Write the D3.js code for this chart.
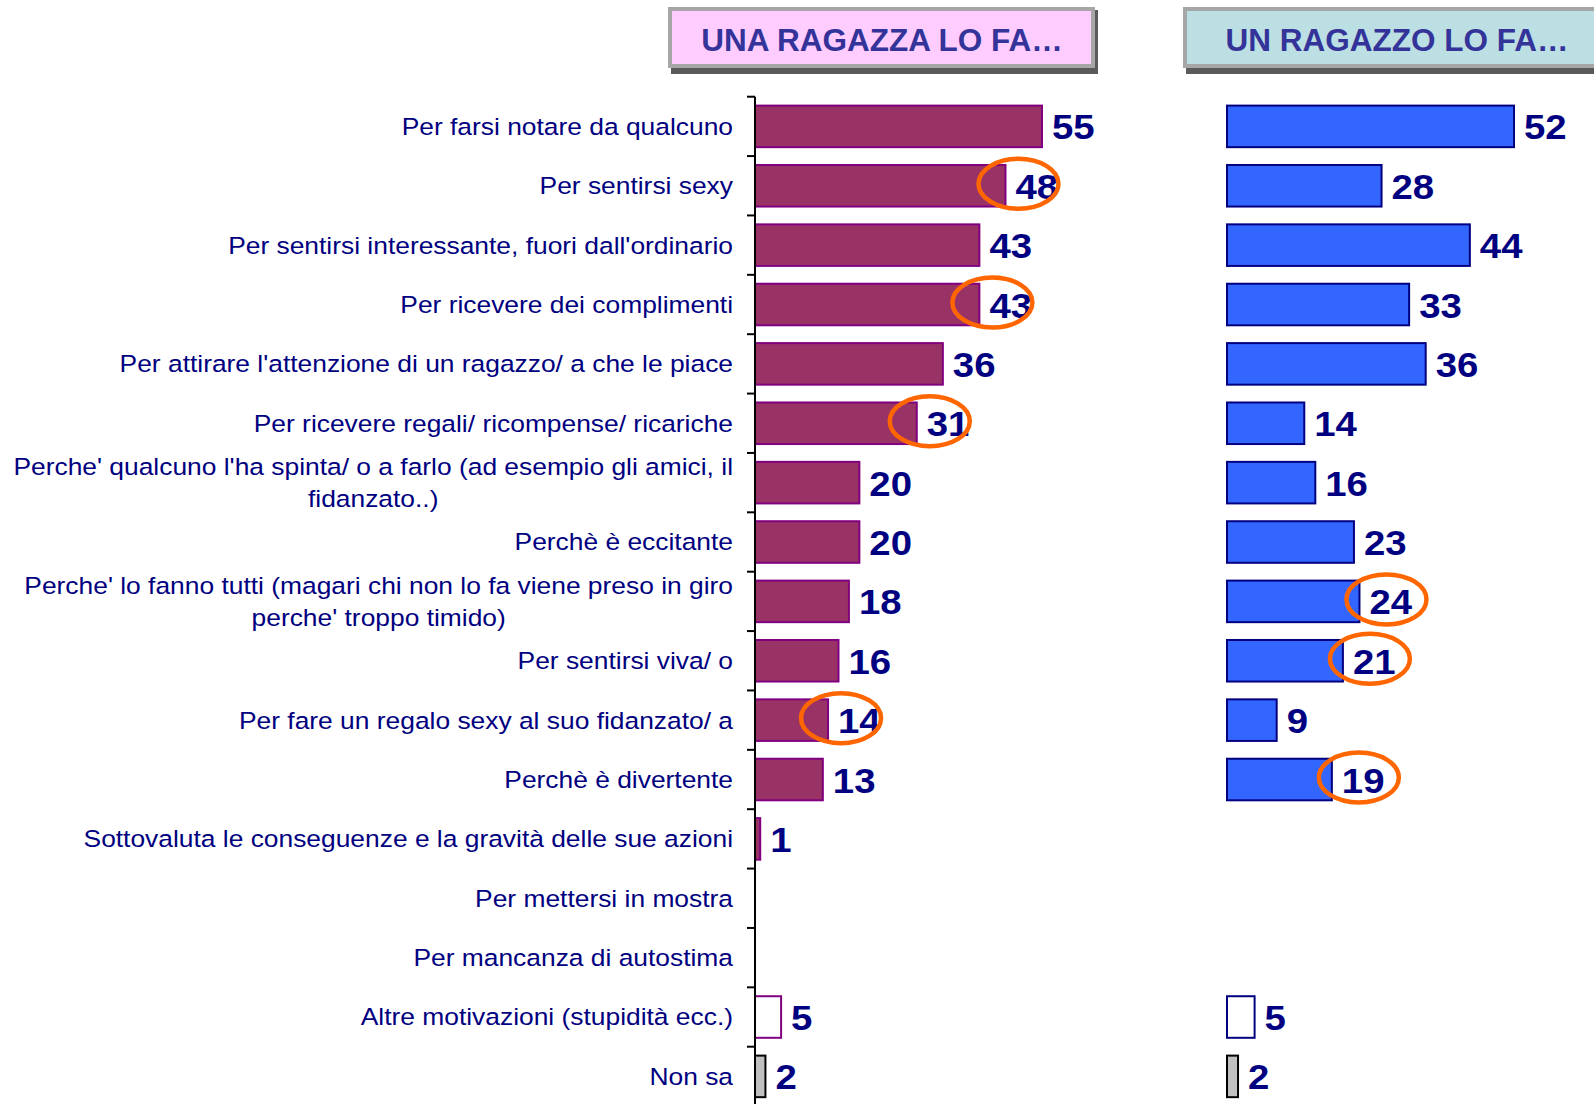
<!DOCTYPE html>
<html lang="it">
<head>
<meta charset="UTF-8">
<title>Una ragazza / un ragazzo lo fa...</title>
<script src="https://d3js.org/d3.v7.min.js"></script>
<style>
  body { margin: 0; background: #fff; font-family: "Liberation Sans", Arial, sans-serif; }
  svg { display: block; }
</style>
</head>
<body>
<svg id="chart" width="1594" height="1104"></svg>
<script>
// categories (\n = forced line break in the label)
const categories = [
  "Per farsi notare da qualcuno",
  "Per sentirsi sexy",
  "Per sentirsi interessante, fuori dall'ordinario",
  "Per ricevere dei complimenti",
  "Per attirare l'attenzione di un ragazzo/ a che le piace",
  "Per ricevere regali/ ricompense/ ricariche",
  "Perche' qualcuno l'ha spinta/ o a farlo (ad esempio gli amici, il\nfidanzato..)",
  "Perchè è eccitante",
  "Perche' lo fanno tutti (magari chi non lo fa viene preso in giro\nperche' troppo timido)",
  "Per sentirsi viva/ o",
  "Per fare un regalo sexy al suo fidanzato/ a",
  "Perchè è divertente",
  "Sottovaluta le conseguenze e la gravità delle sue azioni",
  "Per mettersi in mostra",
  "Per mancanza di autostima",
  "Altre motivazioni (stupidità ecc.)",
  "Non sa"
];

const ragazza = [55, 48, 43, 43, 36, 31, 20, 20, 18, 16, 14, 13, 1, null, null, 5, 2];
const ragazzo = [52, 28, 44, 33, 36, 14, 16, 23, 24, 21, 9, 19, null, null, null, 5, 2];

// values circled in orange
const circledRagazza = [1, 3, 5, 10];
const circledRagazzo = [8, 9, 11];

const titles = ["UNA RAGAZZA LO FA…", "UN RAGAZZO LO FA…"];

const svg = d3.select("#chart");
const navy = "#000080";

const y = d3.scaleBand()
  .domain(d3.range(categories.length))
  .range([96.7, 96.7 + categories.length * 59.375])
  .paddingInner(0.3)
  .paddingOuter(0.15);

const panels = [
  { title: titles[0], values: ragazza, circled: circledRagazza, x0: 755, boxX: 668,
    fill: "#993366", stroke: "#800080", boxFill: "#FFCCFF", axis: true, ellDx: 13 },
  { title: titles[1], values: ragazzo, circled: circledRagazzo, x0: 1227, boxX: 1183,
    fill: "#3366FF", stroke: "#000080", boxFill: "#BBDFE3", axis: false, ellDx: 27 }
];

const barLen = 287;
const labelRight = 733;

// category labels (text is a bit wider than Arial in the original, so stretch x)
const labels = svg.append("g")
  .attr("transform", `translate(${labelRight},0) scale(1.123,1)`)
  .attr("font-size", 23.5)
  .attr("fill", navy);

categories.forEach((c, i) => {
  const lines = c.split("\n");
  const cy = y(i) + y.bandwidth() / 2;
  const lh = 32;
  const t = labels.append("text")
    .attr("text-anchor", lines.length > 1 ? "middle" : "end")
    .attr("dominant-baseline", "central");
  lines.forEach((l, j) => {
    t.append("tspan")
      .attr("x", 0)
      .attr("y", cy + (j - (lines.length - 1) / 2) * lh)
      .text(l);
  });
  if (lines.length > 1) {
    const w = t.node().getBBox().width;
    t.selectAll("tspan").attr("x", -w / 2);
  }
});

panels.forEach(p => {
  const x = d3.scaleLinear()
    .domain([0, d3.max(p.values)])
    .range([p.x0, p.x0 + barLen]);

  // header box
  const hb = svg.append("g");
  hb.append("rect")
    .attr("x", p.boxX + 3).attr("y", 10)
    .attr("width", 427).attr("height", 64)
    .attr("fill", "#5a5a5a");
  hb.append("rect")
    .attr("x", p.boxX + 2).attr("y", 9)
    .attr("width", 423).attr("height", 57)
    .attr("fill", p.boxFill)
    .attr("stroke", "#A6A6A6")
    .attr("stroke-width", 4);
  hb.append("text")
    .attr("x", p.boxX + 214).attr("y", 40)
    .attr("text-anchor", "middle")
    .attr("dominant-baseline", "central")
    .attr("font-size", 31.5)
    .attr("font-weight", "bold")
    .attr("fill", "#333399")
    .text(p.title);

  const data = p.values.map((v, i) => ({ v, i })).filter(d => d.v != null);
  const last = categories.length - 1;

  const g = svg.append("g");
  g.selectAll("rect.bar")
    .data(data)
    .join("rect")
    .attr("class", "bar")
    .attr("x", p.x0)
    .attr("y", d => y(d.i))
    .attr("width", d => x(d.v) - p.x0)
    .attr("height", y.bandwidth())
    .attr("fill", d => d.i === last ? "#C0C0C0" : d.i === last - 1 ? "#fff" : p.fill)
    .attr("stroke", d => d.i === last ? "#000" : p.stroke)
    .attr("stroke-width", 2);

  g.selectAll("text.val")
    .data(data)
    .join("text")
    .attr("class", "val")
    .attr("transform", d => `translate(${x(d.v) + 10},${y(d.i) + y.bandwidth() / 2 + 1}) scale(1.08,1)`)
    .attr("dominant-baseline", "central")
    .attr("font-size", 35.5)
    .attr("font-weight", "bold")
    .attr("fill", navy)
    .text(d => d.v);

  // axis line with ticks between categories
  if (p.axis) {
    const ax = svg.append("g").attr("stroke", "#000").attr("stroke-width", 2);
    ax.append("line")
      .attr("x1", p.x0).attr("x2", p.x0)
      .attr("y1", y.range()[0]).attr("y2", 1104);
    d3.range(categories.length + 1).forEach(k => {
      const ty = y.range()[0] + k * y.step();
      ax.append("line")
        .attr("x1", p.x0 - 8).attr("x2", p.x0)
        .attr("y1", ty).attr("y2", ty);
    });
  }

  // orange circles
  g.selectAll("ellipse")
    .data(data.filter(d => p.circled.includes(d.i)))
    .join("ellipse")
    .attr("cx", d => x(d.v) + p.ellDx)
    .attr("cy", d => y(d.i) + y.bandwidth() / 2 - 2)
    .attr("rx", 40)
    .attr("ry", 25)
    .attr("fill", "none")
    .attr("stroke", "#FF6600")
    .attr("stroke-width", 4.5);
});
</script>
</body>
</html>
